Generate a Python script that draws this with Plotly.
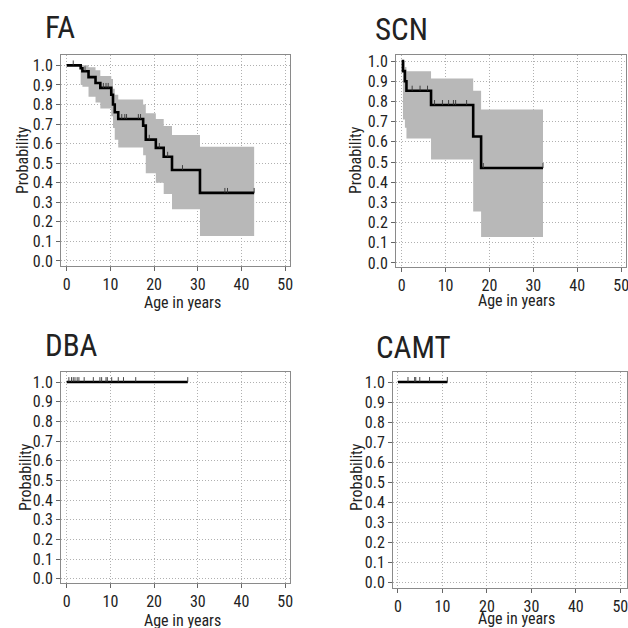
import numpy as np
import plotly.graph_objects as go

# ---------------- data ----------------
panel_names = ["FA", "SCN", "DBA", "CAMT"]

fa_time = [0, 3.2, 3.6, 5.0, 6.6, 7.7, 10.2, 10.6, 11.0, 11.8, 17.5, 18.1, 20.4, 22.2, 24.1, 30.5, 42.9]
fa_surv = [1.0, 0.985, 0.97, 0.94, 0.91, 0.885, 0.85, 0.80, 0.76, 0.726, 0.692, 0.62, 0.578, 0.533, 0.465, 0.348, 0.348]
fa_upper = [1.0, 1.0, 1.0, 0.99, 0.975, 0.945, 0.93, 0.88, 0.85, 0.826, 0.80, 0.755, 0.726, 0.69, 0.644, 0.584, 0.584]
fa_lower = [1.0, 0.90, 0.89, 0.84, 0.81, 0.78, 0.74, 0.68, 0.62, 0.58, 0.54, 0.448, 0.40, 0.342, 0.264, 0.128, 0.128]
fa_censor = [1.5, 4.2, 8.4, 9.0, 9.5, 12.6, 13.3, 13.7, 16.4, 16.9, 18.9, 21.2, 23.1, 26.5, 36.2, 36.8, 42.9]

scn_time = [0, 0.3, 0.75, 1.1, 6.7, 16.3, 18.1, 32.2]
scn_surv = [1.0, 0.95, 0.90, 0.853, 0.782, 0.626, 0.47, 0.47]
scn_upper = [1.0, 1.0, 0.97, 0.95, 0.914, 0.853, 0.76, 0.76]
scn_lower = [1.0, 0.71, 0.67, 0.617, 0.512, 0.255, 0.128, 0.128]
scn_censor = [2.4, 4.2, 5.9, 7.5, 9.3, 10.7, 11.8, 12.3, 14.8, 18.6, 32.2]

dba_time = [0, 27.7]
dba_surv = [1.0, 1.0]
dba_upper = [1.0, 1.0]
dba_lower = [1.0, 1.0]
dba_censor = [0.5, 1.1, 1.5, 1.9, 2.4, 2.8, 4.0, 6.1, 7.6, 8.0, 9.0, 9.3, 10.3, 11.8, 13.0, 15.8, 27.7]

camt_time = [0, 11.1]
camt_surv = [1.0, 1.0]
camt_upper = [1.0, 1.0]
camt_lower = [1.0, 1.0]
camt_censor = [2.25, 3.75, 4.0, 4.9, 7.1, 11.1]

x_ticks = [0, 10, 20, 30, 40, 50]
y_ticks = [0.0, 0.1, 0.2, 0.3, 0.4, 0.5, 0.6, 0.7, 0.8, 0.9, 1.0]

series = [
    (fa_time, fa_surv, fa_upper, fa_lower, fa_censor),
    (scn_time, scn_surv, scn_upper, scn_lower, scn_censor),
    (dba_time, dba_surv, dba_upper, dba_lower, dba_censor),
    (camt_time, camt_surv, camt_upper, camt_lower, camt_censor),
]

# ---------------- layout geometry (pixels in the 628x628 window) ----------------
W = H = 628
geom = [
    dict(l=61, r=290, t=55, b=266, xr=[-1.3, 51.1], yr=[-0.026, 1.053],
         title=(43, 28), ylab=(23, 160), xlab=(182, 302)),
    dict(l=396, r=626, t=55, b=267, xr=[-1.28, 51.1], yr=[-0.02, 1.03],
         title=(373, 30), ylab=(356, 160), xlab=(516, 301)),
    dict(l=61, r=290, t=372, b=583, xr=[-1.3, 51.1], yr=[-0.022, 1.051],
         title=(43, 345), ylab=(25, 477), xlab=(182, 620)),
    dict(l=393, r=627, t=372, b=588, xr=[-1.12, 51.5], yr=[-0.029, 1.05],
         title=(374, 347), ylab=(356, 477), xlab=(516, 618)),
]

def px(v):
    return v / W

def py(v):
    return 1 - v / H

FONT = "Liberation Sans Narrow, Roboto Condensed, DejaVu Sans Condensed, sans-serif"
TXT = "#222222"
BAND = "#b8b8b8"

fig = go.Figure()
annotations = []
layout_axes = {}

def step_lookup(times, surv, t):
    idx = np.searchsorted(np.array(times), t, side="right") - 1
    return float(np.array(surv)[max(idx, 0)])

for i, ((t, s, up, lo, cens), g) in enumerate(zip(series, geom)):
    n = "" if i == 0 else str(i + 1)
    xa, ya = "x" + n, "y" + n
    fig.add_trace(go.Scatter(x=t, y=lo, mode="lines", line=dict(shape="hv", width=0, color=BAND),
                             xaxis=xa, yaxis=ya, showlegend=False, hoverinfo="skip"))
    fig.add_trace(go.Scatter(x=t, y=up, mode="lines", line=dict(shape="hv", width=0, color=BAND),
                             fill="tonexty", fillcolor=BAND,
                             xaxis=xa, yaxis=ya, showlegend=False, hoverinfo="skip"))
    fig.add_trace(go.Scatter(x=t, y=s, mode="lines", line=dict(shape="hv", width=2.6, color="#000000"),
                             xaxis=xa, yaxis=ya, showlegend=False))
    cy = [step_lookup(t, s, c) for c in cens]
    fig.add_trace(go.Scatter(x=cens, y=cy, mode="markers",
                             marker=dict(size=1, color="rgba(0,0,0,0)"),
                             error_y=dict(type="data", symmetric=False, array=[0.025] * len(cens),
                                          arrayminus=[0] * len(cens), width=0, thickness=0.9,
                                          color="#333333"),
                             xaxis=xa, yaxis=ya, showlegend=False))

    axis_common = dict(showline=True, mirror=True, linecolor="#8a8a8a", linewidth=1,
                       ticks="outside", ticklen=4, tickcolor="#666666", tickwidth=1,
                       showgrid=True, gridcolor="#b0b0b0", griddash="1px,2px", gridwidth=1,
                       zeroline=False, automargin=False, ticklabeloverflow="allow",
                       tickfont=dict(family=FONT, size=16, color=TXT))
    layout_axes["xaxis" + n] = dict(axis_common, domain=[px(g["l"]), px(g["r"])], range=g["xr"],
                                    tickvals=x_ticks, anchor=ya)
    layout_axes["yaxis" + n] = dict(axis_common, domain=[py(g["b"]), py(g["t"])], range=g["yr"],
                                    tickvals=y_ticks, tickformat=".1f", anchor=xa)

    annotations.append(dict(text=panel_names[i], x=px(g["title"][0]), y=py(g["title"][1]),
                            xref="paper", yref="paper", xanchor="left", yanchor="middle",
                            showarrow=False, font=dict(family=FONT, size=31, color=TXT)))
    annotations.append(dict(text="Probability", x=px(g["ylab"][0]), y=py(g["ylab"][1]),
                            xref="paper", yref="paper", xanchor="center", yanchor="middle",
                            textangle=-90, showarrow=False, font=dict(family=FONT, size=16, color=TXT)))
    annotations.append(dict(text="Age in years", x=px(g["xlab"][0]), y=py(g["xlab"][1]),
                            xref="paper", yref="paper", xanchor="center", yanchor="middle",
                            showarrow=False, font=dict(family=FONT, size=16, color=TXT)))

fig.update_layout(template="none", width=W, height=H, margin=dict(l=0, r=0, t=0, b=0, autoexpand=False),
                  paper_bgcolor="white", plot_bgcolor="white", hovermode=False,
                  annotations=annotations, **layout_axes)

fig.write_html("out.html", config={"displayModeBar": False, "staticPlot": True},
               post_script="document.body.style.margin='0px';document.body.style.overflow='hidden';")
